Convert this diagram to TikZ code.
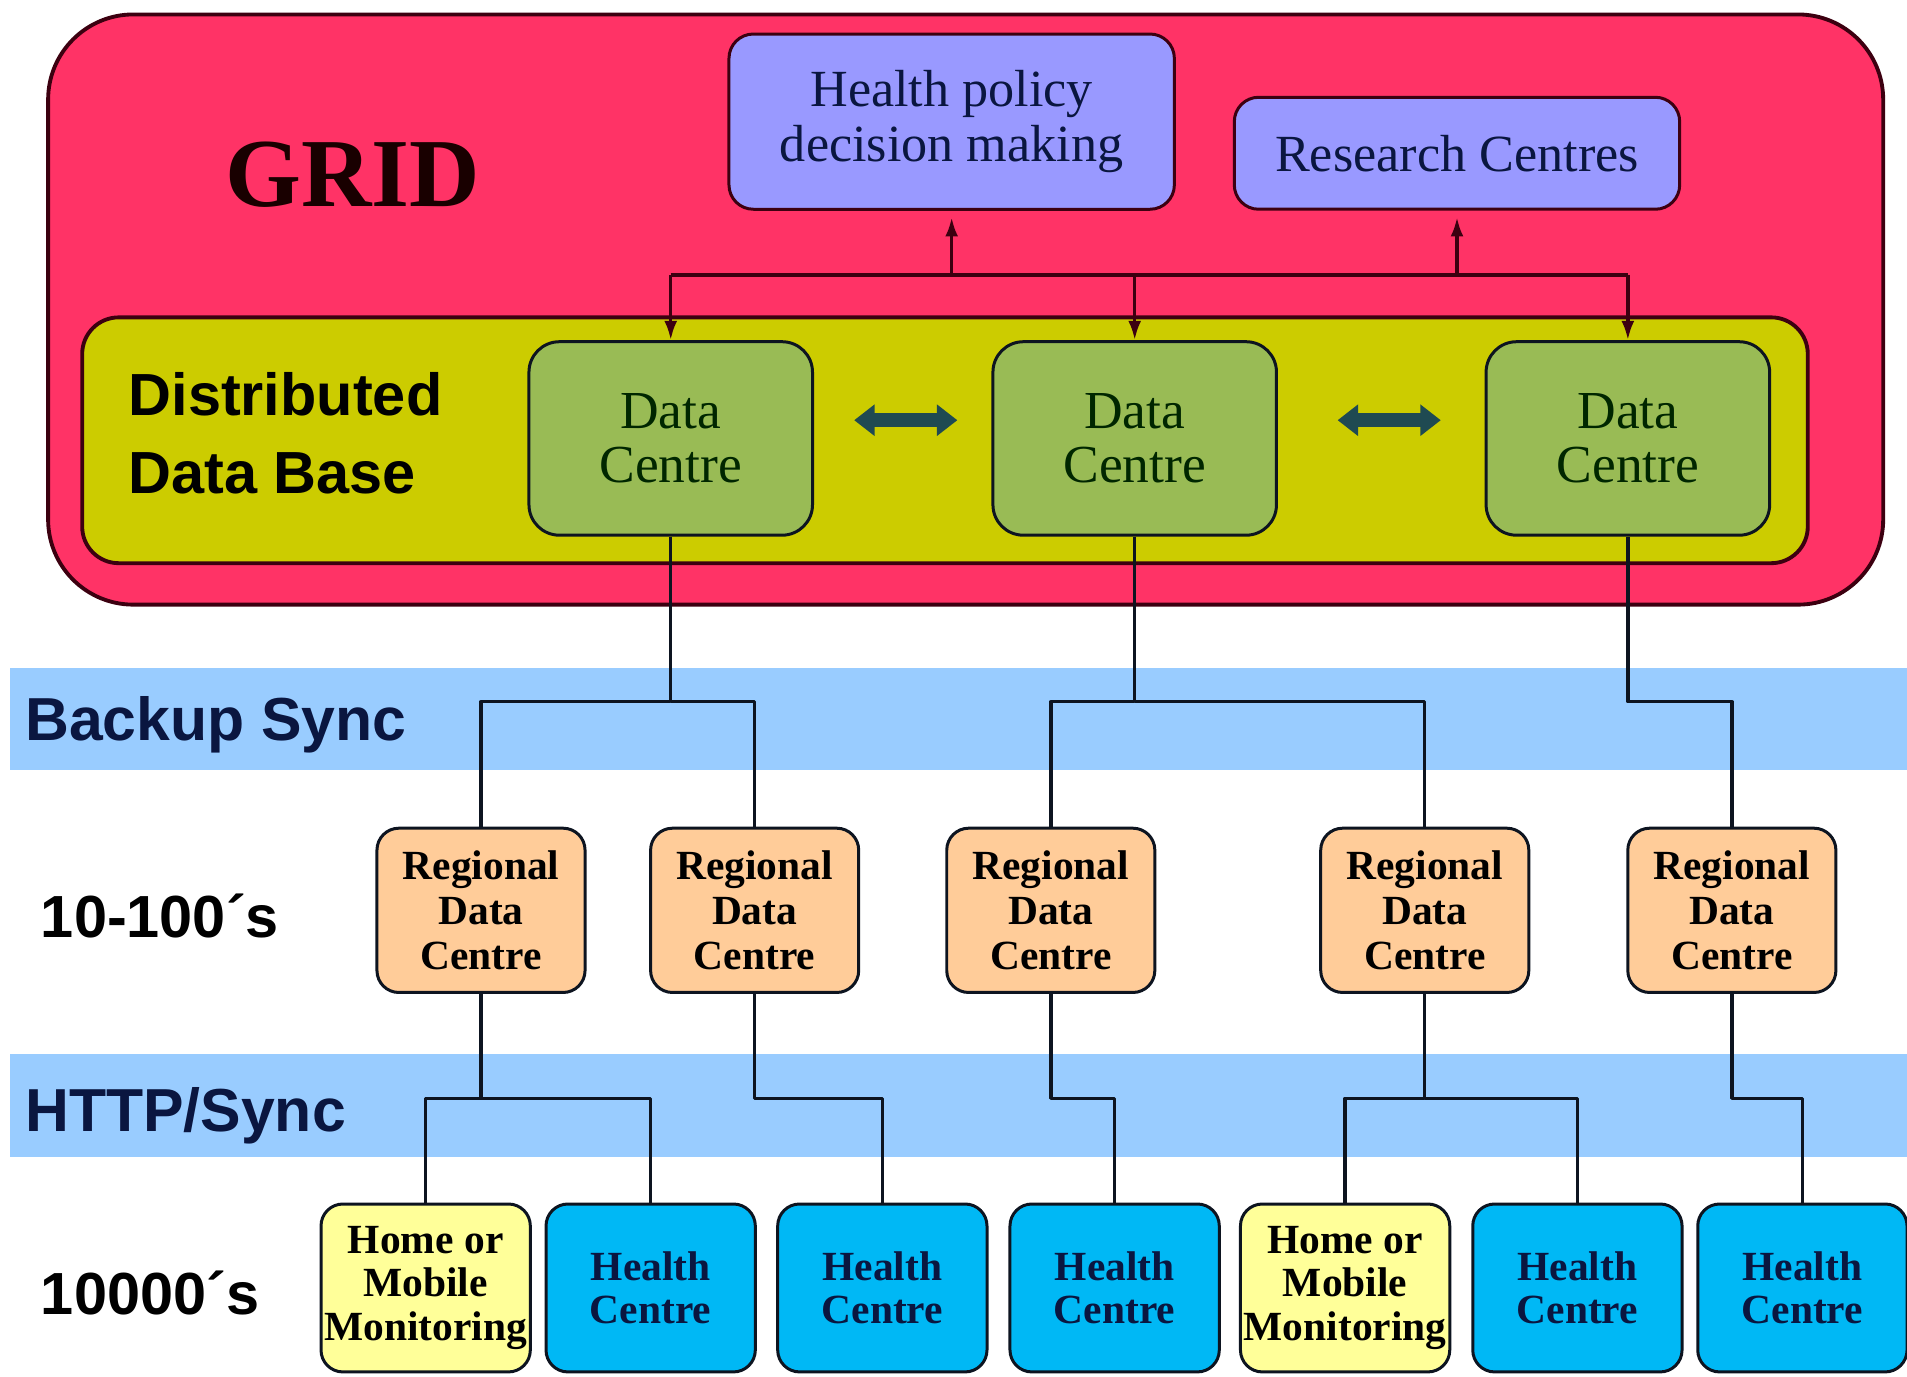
\documentclass[tikz,border=0pt]{standalone}
\usepackage{fontspec}
\setmainfont{Liberation Serif}
\setsansfont{Liberation Sans}
\usetikzlibrary{arrows.meta}
\definecolor{gridred}{HTML}{FF3366}
\definecolor{ddbyellow}{HTML}{CCCC00}
\definecolor{dcgreen}{HTML}{99BB55}
\definecolor{lilac}{HTML}{9999FF}
\definecolor{peach}{HTML}{FFCC99}
\definecolor{paleyellow}{HTML}{FFFF99}
\definecolor{hcblue}{HTML}{00B8F5}
\definecolor{band}{HTML}{99CCFF}
\definecolor{syncteal}{HTML}{1F4A52}
\definecolor{wire}{HTML}{0D1420}
\definecolor{maroon}{HTML}{3C0010}
\definecolor{navy}{HTML}{0A1640}

\begin{document}
\begin{tikzpicture}[x=0.01cm,y=-0.01cm,line join=round,
 wire/.style={draw=wire,line width=0.8pt},
 redwire/.style={draw=maroon,line width=0.8pt,-{Latex[length=4.5pt,width=3pt]}},
 sync/.style={draw=syncteal,line width=3.4pt,{Triangle[length=4.8pt,width=7.1pt]}-{Triangle[length=4.8pt,width=7.1pt]}},
 dcbox/.style={draw=wire,line width=0.7pt,fill=dcgreen,rounded corners=0.25cm,minimum width=2.33cm,minimum height=1.59cm,inner sep=0pt,align=center,text=black!85!green,font=\fontsize{12.5}{12.5}\selectfont},
 topbox/.style={draw=maroon,line width=0.7pt,fill=lilac,rounded corners=0.2cm,minimum width=3.66cm,inner sep=0pt,align=center,text=navy,font=\fontsize{12.2}{12.8}\selectfont},
 regbox/.style={draw=wire,line width=0.7pt,fill=peach,rounded corners=0.18cm,minimum width=1.71cm,minimum height=1.35cm,inner sep=0pt,align=center,text=black,font=\fontsize{9.7}{10.5}\selectfont\bfseries},
 homebox/.style={draw=wire,line width=0.7pt,fill=paleyellow,rounded corners=0.18cm,minimum width=1.72cm,minimum height=1.38cm,inner sep=0pt,align=center,text=black,font=\fontsize{9.7}{10.2}\selectfont\bfseries},
 hcbox/.style={homebox,fill=hcblue,text=navy},
 lvl/.style={anchor=base west,inner sep=0pt,text=navy,font=\fontsize{14.2}{14.2}\selectfont\sffamily\bfseries}]
\useasboundingbox (0,0) rectangle (1568,1132);
\fill[band] (8,549) rectangle (1568,633);
\fill[band] (8,867) rectangle (1568,951);
\node[draw=maroon,line width=0.9pt,fill=gridred,rounded corners=0.7cm,minimum width=15.08cm,minimum height=4.85cm] (grid) at (794,254.5) {};
\node[draw=maroon,line width=0.9pt,fill=ddbyellow,rounded corners=0.3cm,minimum width=14.18cm,minimum height=2.02cm] (ddb) at (777,362) {};
\node[anchor=base,inner sep=0pt,text=black!90!red,font=\fontsize{22.8}{22.8}\selectfont\bfseries] (gridlbl) at (290,170) {GRID};
\node[anchor=west,inner sep=0pt,align=left,font=\fontsize{13.9}{18.2}\selectfont\sffamily\bfseries] (ddblbl) at (105,356) {Distributed\\Data Base};
\node[topbox,minimum height=1.44cm] (policy) at (782.5,100) {Health policy\\decision making};
\node[topbox,minimum height=0.92cm] (research) at (1198,126) {Research Centres};
\node[dcbox] (dc1) at (551.5,360.5) {Data\\Centre};
\node[dcbox] (dc2) at (933,360.5) {Data\\Centre};
\node[dcbox] (dc3) at (1338.5,360.5) {Data\\Centre};
\coordinate (bus) at (0,226);
\coordinate (bk) at (0,577);
\coordinate (ht) at (0,903);
\draw[maroon,line width=0.8pt] (dc1.north |- bus) -- (dc3.north |- bus);
\foreach \n in {dc1,dc2,dc3} \draw[redwire] (\n.north |- bus) -- (\n.north);
\foreach \n in {policy,research} \draw[redwire,shorten >=1.5pt] (\n.south |- bus) -- (\n.south);
\draw[sync,shorten <=0.33cm,shorten >=0.28cm] ([yshift=0.15cm]dc1.east) -- ([yshift=0.15cm]dc2.west);
\draw[sync,shorten <=0.49cm,shorten >=0.36cm] ([yshift=0.15cm]dc2.east) -- ([yshift=0.15cm]dc3.west);
\node[lvl] (backup) at (20,609) {Backup Sync};
\node[lvl] (http) at (20,930) {HTTP/Sync};
\node[lvl,text=black,font=\fontsize{13.9}{13.9}\selectfont\sffamily\bfseries] (tens) at (33,771) {10-100´s};
\node[lvl,text=black,font=\fontsize{13.9}{13.9}\selectfont\sffamily\bfseries] (thousands) at (33,1081) {10000´s};
\node[regbox] (r1) at (395.5,748.5) {Regional\\Data\\Centre};
\node[regbox] (r2) at (620.5,748.5) {Regional\\Data\\Centre};
\node[regbox] (r3) at (864,748.5) {Regional\\Data\\Centre};
\node[regbox] (r4) at (1171.5,748.5) {Regional\\Data\\Centre};
\node[regbox] (r5) at (1424,748.5) {Regional\\Data\\Centre};
\node[homebox] (b1) at (350,1059) {Home or\\Mobile\\Monitoring};
\node[hcbox] (b2) at (535,1059) {Health\\Centre};
\node[hcbox] (b3) at (725.5,1059) {Health\\Centre};
\node[hcbox] (b4) at (916.5,1059) {Health\\Centre};
\node[homebox] (b5) at (1106,1059) {Home or\\Mobile\\Monitoring};
\node[hcbox] (b6) at (1297,1059) {Health\\Centre};
\node[hcbox] (b7) at (1482,1059) {Health\\Centre};
\draw[wire] (dc1.south) -- (dc1.south |- bk) -| (r1.north) (dc1.south |- bk) -| (r2.north);
\draw[wire] (dc2.south) -- (dc2.south |- bk) -| (r3.north) (dc2.south |- bk) -| (r4.north);
\draw[wire] (dc3.south) -- (dc3.south |- bk) -| (r5.north);
\draw[wire] (r1.south) -- (r1.south |- ht) -| (b1.north) (r1.south |- ht) -| (b2.north);
\draw[wire] (r2.south) -- (r2.south |- ht) -| (b3.north);
\draw[wire] (r3.south) -- (r3.south |- ht) -| (b4.north);
\draw[wire] (r4.south) -- (r4.south |- ht) -| (b5.north) (r4.south |- ht) -| (b6.north);
\draw[wire] (r5.south) -- (r5.south |- ht) -| (b7.north);
\end{tikzpicture}
\end{document}
